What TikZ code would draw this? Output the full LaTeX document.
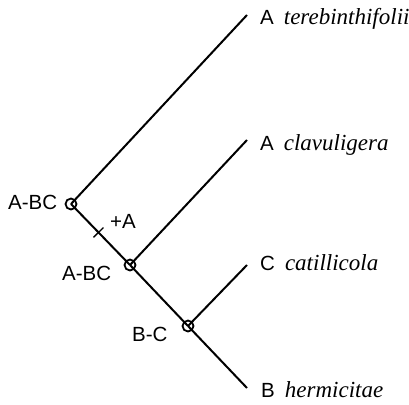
\documentclass[tikz,border=0pt]{standalone}
\usepackage{fontspec}
\setmainfont{Liberation Sans}
\newfontfamily\taxfont{Liberation Serif}
\newcommand{\taxon}[1]{{\taxfont\fontsize{23}{25}\selectfont\itshape #1}}
\begin{document}
\begin{tikzpicture}[x=1pt,y=-1pt,
  branch/.style={line width=2pt},
  junction/.style={circle,draw,line width=1.8pt,minimum size=11pt,inner sep=0pt},
  lab/.style={font=\fontsize{20.5}{22}\selectfont,inner sep=0pt,anchor=base west},
  tax/.style={font=\fontsize{20.5}{22}\selectfont,inner sep=0pt,anchor=base west}]
\useasboundingbox (0,0) rectangle (409,404);
% junctions
\node[junction] (n1) at (71,204) {};
\node[junction] (n2) at (130,265) {};
\node[junction] (n3) at (188,326) {};
% tips
\coordinate (t1) at (247,15);
\coordinate (t2) at (247,140);
\coordinate (t3) at (247,265);
\coordinate (t4) at (247,388);
% branches
\draw[branch] (n1.center) -- (t1);
\draw[branch] (n1.center) -- (n2.center);
\draw[branch] (n2.center) -- (t2);
\draw[branch] (n2.center) -- (n3.center);
\draw[branch] (n3.center) -- (t3);
\draw[branch] (n3.center) -- (t4);
% tick mark
\path (n1) -- (n2) coordinate[pos=0.46] (tk);
\draw[line width=1.3pt] ([shift={(-5,4.9)}]tk) -- ([shift={(5,-4.9)}]tk);
% left labels
\node[lab] (l1) at (8,209) {A-BC};
\node[lab] (l2) at (110,228) {+A};
\node[lab] (l3) at (62,280) {A-BC};
\node[lab] (l4) at (132,341) {B-C};
% taxa
\node[tax] (x1) at (260,25) {A\hspace{10pt}\taxon{terebinthifolii}};
\node[tax] (x2) at (260,150) {A\hspace{10pt}\taxon{clavuligera}};
\node[tax] (x3) at (260,270) {C\hspace{10pt}\taxon{catillicola}};
\node[tax] (x4) at (261,397) {B\hspace{10pt}\taxon{hermicitae}};
\end{tikzpicture}
\end{document}
